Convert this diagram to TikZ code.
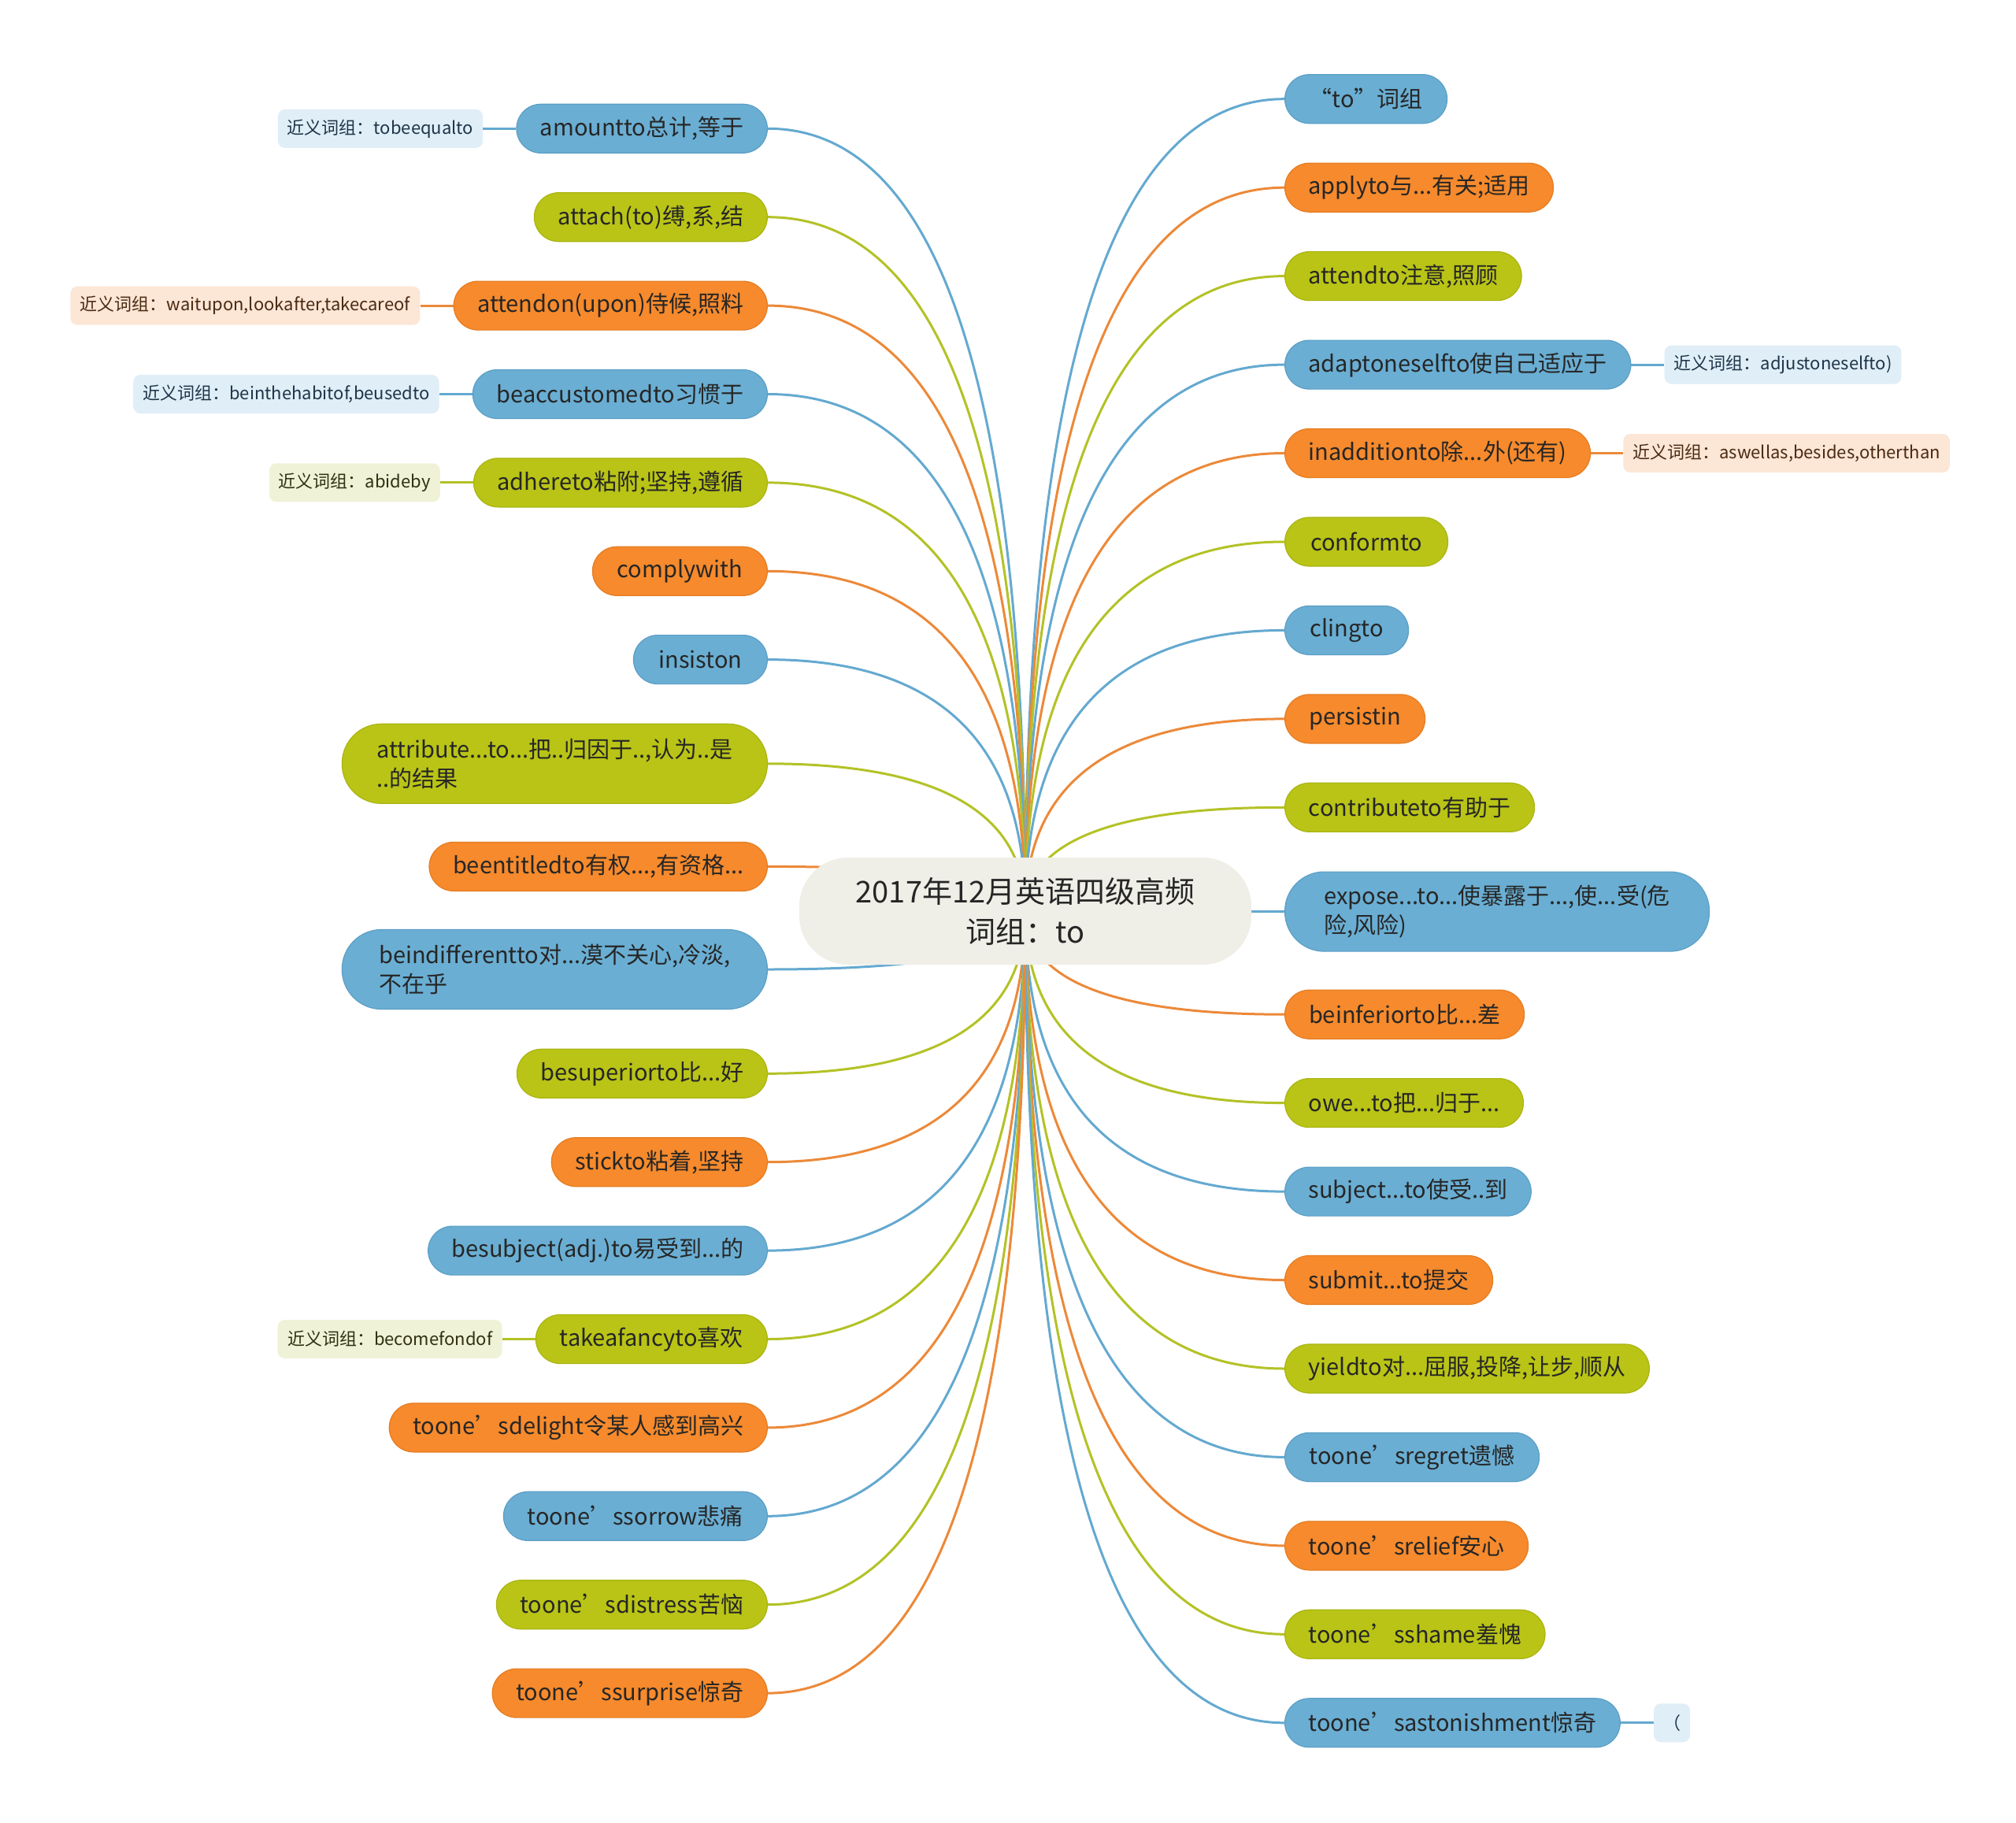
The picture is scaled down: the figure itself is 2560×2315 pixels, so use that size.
\documentclass[tikz,border=0pt]{standalone}
\usepackage{fontspec}
\setmainfont{Noto Sans CJK SC}
\usetikzlibrary{calc,positioning,backgrounds}
\definecolor{nblue}{HTML}{6AAED3}
\definecolor{nblueD}{HTML}{5C9FC6}
\definecolor{norange}{HTML}{F68A2C}
\definecolor{norangeD}{HTML}{E57D22}
\definecolor{ngreen}{HTML}{B9C416}
\definecolor{ngreenD}{HTML}{AAB513}
\definecolor{lblue}{HTML}{64A9D0}
\definecolor{lorange}{HTML}{EC8939}
\definecolor{lgreen}{HTML}{B3C226}
\definecolor{sblue}{HTML}{E0EEF7}
\definecolor{sorange}{HTML}{FCE6D6}
\definecolor{sgreen}{HTML}{F0F2D8}
\definecolor{sbtext}{HTML}{1E3448}
\definecolor{sotext}{HTML}{4A2A12}
\definecolor{sgtext}{HTML}{2E3010}
\definecolor{tx}{HTML}{262626}
\definecolor{cfill}{HTML}{EFEFE8}
\begin{document}
\begin{tikzpicture}[x=1pt,y=-1pt,
  base/.style={rounded corners=31pt, minimum height=62pt, inner xsep=30pt, inner ysep=0pt,
    font=\fontsize{29}{37.5}\selectfont, text=tx, line width=1.2pt},
  nb/.style={base, fill=nblue, draw=nblueD},
  no/.style={base, fill=norange, draw=norangeD},
  ng/.style={base, fill=ngreen, draw=ngreenD},
  two/.style={rounded corners=50pt, minimum height=101pt, align=left},
  sub/.style={rounded corners=9pt, minimum height=49pt, inner xsep=12pt, inner ysep=0pt,
    font=\fontsize{22}{26}\selectfont},
  sb/.style={sub, fill=sblue, text=sbtext},
  so/.style={sub, fill=sorange, text=sotext},
  sg/.style={sub, fill=sgreen, text=sgtext},
  cb/.style={draw=lblue, line width=3pt},
  co/.style={draw=lorange, line width=3pt},
  cg/.style={draw=lgreen, line width=3pt},
  centre/.style={fill=cfill, rounded corners=62pt, minimum width=574pt, minimum height=136pt,
    align=center, font=\fontsize{38}{51}\selectfont, text=tx}
]
\useasboundingbox (0,0) rectangle (2560,2315);

\node[centre] (c) at (1302,1157) {2017年12月英语四级高频\\词组：to};

% right side
\node[nb, anchor=west, minimum width=206pt] (r1) at (1631,125.7) {“to”词组};
\node[no, anchor=west, minimum width=336pt] (r2) at (1631,238.2) {applyto与...有关;适用};
\node[ng, anchor=west, minimum width=299pt] (r3) at (1631,350.6) {attendto注意,照顾};
\node[nb, anchor=west, minimum width=436pt] (r4) at (1631,463.1) {adaptoneselfto使自己适应于};
\node[no, anchor=west, minimum width=384pt] (r5) at (1631,575.5) {inadditionto除...外(还有)};
\node[ng, anchor=west, minimum width=207pt] (r6) at (1631,688.0) {conformto};
\node[nb, anchor=west, minimum width=157pt] (r7) at (1631,800.4) {clingto};
\node[no, anchor=west, minimum width=178pt] (r8) at (1631,912.9) {persistin};
\node[ng, anchor=west, minimum width=317pt] (r9) at (1631,1025.3) {contributeto有助于};
\node[nb, two, anchor=west, minimum width=539pt] (r10) at (1631,1157.6) {expose...to...使暴露于...,使...受(危\\险,风险)};
\node[no, anchor=west, minimum width=304pt] (r11) at (1631,1288.2) {beinferiorto比...差};
\node[ng, anchor=west, minimum width=302pt] (r12) at (1631,1400.6) {owe...to把...归于...};
\node[nb, anchor=west, minimum width=310pt] (r13) at (1631,1513.1) {subject...to使受..到};
\node[no, anchor=west, minimum width=264pt] (r14) at (1631,1625.5) {submit...to提交};
\node[ng, anchor=west, minimum width=454pt] (r15) at (1631,1738.0) {yieldto对...屈服,投降,让步,顺从};
\node[nb, anchor=west, minimum width=323pt] (r16) at (1631,1850.4) {toone’sregret遗憾};
\node[no, anchor=west, minimum width=309pt] (r17) at (1631,1962.9) {toone’srelief安心};
\node[ng, anchor=west, minimum width=328pt] (r18) at (1631,2075.3) {toone’sshame羞愧};
\node[nb, anchor=west, minimum width=423pt] (r19) at (1631,2187.8) {toone’sastonishment惊奇};

\node[sb, right=42pt of r4, minimum width=299pt] (r4a) {近义词组：adjustoneselfto)};
\node[so, right=41pt of r5, minimum width=409pt] (r5a) {近义词组：aswellas,besides,otherthan};
\node[sb, right=42pt of r19, minimum width=43pt] (r19a) {（};

% left side
\node[nb, anchor=east, minimum width=317pt] (l1) at (975,163.3) {amountto总计,等于};
\node[ng, anchor=east, minimum width=296pt] (l2) at (975,275.7) {attach(to)缚,系,结};
\node[no, anchor=east, minimum width=395pt] (l3) at (975,388.1) {attendon(upon)侍候,照料};
\node[nb, anchor=east, minimum width=374pt] (l4) at (975,500.5) {beaccustomedto习惯于};
\node[ng, anchor=east, minimum width=369pt] (l5) at (975,612.9) {adhereto粘附;坚持,遵循};
\node[no, anchor=east, minimum width=222pt] (l6) at (975,725.3) {complywith};
\node[nb, anchor=east, minimum width=170pt] (l7) at (975,837.6) {insiston};
\node[ng, two, anchor=east, minimum width=540pt] (l8) at (975,969.8) {attribute...to...把..归因于..,认为..是\\..的结果};
\node[no, anchor=east, minimum width=424pt] (l9) at (975,1100.4) {beentitledto有权...,有资格...};
\node[nb, two, anchor=east, minimum width=540pt] (l10) at (975,1231.0) {beindifferentto对...漠不关心,冷淡,\\不在乎};
\node[ng, anchor=east, minimum width=318pt] (l11) at (975,1363.3) {besuperiorto比...好};
\node[no, anchor=east, minimum width=273pt] (l12) at (975,1475.7) {stickto粘着,坚持};
\node[nb, anchor=east, minimum width=424pt] (l13) at (975,1588.1) {besubject(adj.)to易受到...的};
\node[ng, anchor=east, minimum width=294pt] (l14) at (975,1700.5) {takeafancyto喜欢};
\node[no, anchor=east, minimum width=477pt] (l15) at (975,1812.9) {toone’sdelight令某人感到高兴};
\node[nb, anchor=east, minimum width=335pt] (l16) at (975,1925.3) {toone’ssorrow悲痛};
\node[ng, anchor=east, minimum width=344pt] (l17) at (975,2037.7) {toone’sdistress苦恼};
\node[no, anchor=east, minimum width=348pt] (l18) at (975,2150.1) {toone’ssurprise惊奇};

\node[sb, left=42pt of l1, minimum width=259pt] (l1a) {近义词组：tobeequalto};
\node[so, left=42pt of l3, minimum width=444pt] (l3a) {近义词组：waitupon,lookafter,takecareof};
\node[sb, left=42pt of l4, minimum width=388pt] (l4a) {近义词组：beinthehabitof,beusedto};
\node[sg, left=42pt of l5, minimum width=214pt] (l5a) {近义词组：abideby};
\node[sg, left=42pt of l14, minimum width=285pt] (l14a) {近义词组：becomefondof};

\begin{scope}[on background layer]
\fill[white] (0,0) rectangle (2560,2315);
\foreach \n/\s in {r1/cb,r2/co,r3/cg,r4/cb,r5/co,r6/cg,r7/cb,r8/co,r9/cg,r10/cb,
  r11/co,r12/cg,r13/cb,r14/co,r15/cg,r16/cb,r17/co,r18/cg,r19/cb}
  \draw[\s] (c.center) .. controls ($(c.center)!0.6667!(c.center|-\n.west)$)
    and ($(\n.west)!0.6667!(c.center|-\n.west)$) .. (\n.west);
\foreach \n/\s in {l1/cb,l2/cg,l3/co,l4/cb,l5/cg,l6/co,l7/cb,l8/cg,l9/co,l10/cb,
  l11/cg,l12/co,l13/cb,l14/cg,l15/co,l16/cb,l17/cg,l18/co}
  \draw[\s] (c.center) .. controls ($(c.center)!0.6667!(c.center|-\n.east)$)
    and ($(\n.east)!0.6667!(c.center|-\n.east)$) .. (\n.east);
\draw[cb] (r4.east) -- (r4a.west);
\draw[co] (r5.east) -- (r5a.west);
\draw[cb] (r19.east) -- (r19a.west);
\draw[cb] (l1.west) -- (l1a.east);
\draw[co] (l3.west) -- (l3a.east);
\draw[cb] (l4.west) -- (l4a.east);
\draw[cg] (l5.west) -- (l5a.east);
\draw[cg] (l14.west) -- (l14a.east);
\end{scope}
\end{tikzpicture}
\end{document}
